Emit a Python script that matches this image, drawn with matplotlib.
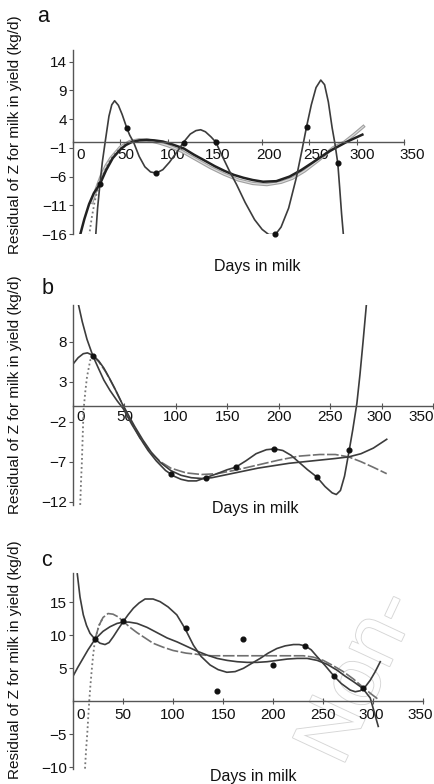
import matplotlib
matplotlib.use("Agg")
import matplotlib.pyplot as plt
import matplotlib.transforms as mtrans
import matplotlib.patheffects as pe

plt.rcParams['font.family'] = ['Liberation Sans', 'DejaVu Sans']

# ---------- panel a ----------
a_dot_day = [28.5, 57, 88, 117, 151, 214, 247, 280]
a_dot_val = [-7.3, 2.4, -5.4, -0.1, 0.0, -16.0, 2.7, -3.7]

a_wig_day = [24, 26, 28.5, 31, 34, 38, 41, 44, 48, 52, 57, 60, 64, 70, 76, 82, 88, 95, 102,
             110, 117, 124, 130, 135, 140, 146, 151, 158, 165, 173, 182, 192, 200, 207, 214,
             220, 228, 236, 242, 247, 252, 257, 262, 266, 270, 274, 277, 280, 282, 284, 286]
a_wig_val = [-16.3, -11.5, -7.3, -3.5, 0.0, 4.5, 6.5, 7.2, 6.4, 4.8, 2.4, 1.2, 0.0, -2.5, -4.3,
             -5.2, -5.4, -4.8, -3.5, -1.7, 0.0, 1.4, 2.0, 2.15, 1.8, 0.9, 0.0, -2.5, -4.9, -7.4,
             -10.5, -13.5, -15.2, -16.1, -16.1, -14.8, -11.5, -6.3, -1.5, 2.7, 6.5, 9.5, 10.8,
             10.0, 7.0, 2.5, -0.3, -3.7, -8.0, -12.5, -16.3]

a_blk_day = [7, 12, 17, 22, 28.5, 35, 42, 50, 56, 62, 70, 78, 86, 95, 105, 117, 128, 138, 150,
             160, 170, 180, 190, 201, 215, 229, 241, 253, 262, 271, 280, 289, 298, 306]
a_blk_val = [-16.5, -13.4, -10.8, -8.9, -7.3, -4.9, -2.8, -1.3, -0.5, 0.0, 0.3, 0.4, 0.3, 0.1,
             -0.4, -1.1, -2.2, -3.1, -4.2, -5.0, -5.7, -6.2, -6.6, -6.9, -6.8, -6.0, -4.9, -3.6,
             -2.6, -1.6, -0.8, 0.0, 0.7, 1.3]

a_gry_day = [20, 25, 30, 35, 40, 50, 60, 70, 80, 90, 100, 115, 130, 145, 160, 175, 190, 205,
             220, 232, 245, 260, 275, 287, 297, 307]
a_gry_val = [-10.5, -8.0, -5.8, -4.1, -2.8, -0.9, 0.1, 0.4, 0.3, -0.1, -0.6, -1.6, -3.0, -4.4,
             -5.6, -6.6, -7.2, -7.4, -7.0, -6.3, -5.0, -3.1, -1.0, 0.0, 1.3, 2.7]

a_dot_line_day = [17, 20, 23, 26, 28.5, 32, 38, 45, 52, 60]
a_dot_line_val = [-16.3, -13.0, -10.3, -8.4, -7.3, -5.6, -3.5, -1.9, -0.8, 0.0]

# ---------- panel b ----------
b_dot_day = [19.4, 95, 129, 158, 195, 237, 268.5]
b_dot_val = [6.2, -8.6, -9.0, -7.7, -5.4, -8.9, -5.6]

b_wig_day = [4.5, 9, 13.6, 19.4, 25, 30, 36, 43, 49, 57, 65, 73, 81, 90, 98, 105, 112, 120, 129,
             140, 150, 158, 168, 178, 188, 196, 204, 212, 220, 228, 237, 245, 252, 256, 260,
             264, 268.5, 272, 276, 279, 282, 285.5]
b_wig_val = [13.1, 10.5, 8.3, 6.2, 4.6, 3.2, 1.9, 0.6, -0.4, -2.3, -4.0, -5.6, -6.9, -8.1, -8.8,
             -9.2, -9.4, -9.4, -9.0, -8.5, -8.0, -7.7, -6.9, -6.0, -5.5, -5.4, -5.6, -6.2, -7.1,
             -8.0, -8.9, -10.1, -10.9, -11.1, -10.6, -8.8, -5.6, -3.0, 0.3, 3.9, 8.0, 13.0]

b_s1_day = [0, 5, 10, 14, 19.4, 25, 30, 36, 42, 48, 54, 60, 68, 76, 85, 95, 105, 115, 125, 135,
            150, 165, 180, 195, 210, 225, 240, 255, 268, 280, 292, 305]
b_s1_val = [5.2, 6.0, 6.5, 6.6, 6.3, 5.6, 4.7, 3.3, 1.8, 0.2, -1.2, -2.6, -4.3, -5.8, -7.1,
            -8.1, -8.7, -9.0, -9.1, -9.0, -8.6, -8.2, -7.8, -7.5, -7.2, -7.0, -6.8, -6.6, -6.4,
            -6.0, -5.3, -4.2]

b_s2_day = [19.4, 25, 32, 40, 48, 55, 65, 75, 85, 95, 110, 125, 140, 160, 180, 200, 220, 240,
            255, 268, 280, 292, 305]
b_s2_val = [6.2, 5.5, 4.2, 2.3, 0.2, -1.6, -4.0, -5.8, -7.0, -7.8, -8.4, -8.6, -8.5, -8.0, -7.4,
            -6.8, -6.3, -6.1, -6.1, -6.4, -7.0, -7.7, -8.5]

b_dot_line_day = [7.0, 7.8, 8.7, 9.5, 10.3, 12, 13.6, 16.8, 19.4]
b_dot_line_val = [-12.4, -9.5, -6.8, -3.5, -0.5, 1.8, 3.6, 5.7, 6.2]

# ---------- panel c ----------
c_dot_day = [22, 50.3, 113, 143.7, 170.3, 200.3, 232, 260.3, 289.3]
c_dot_val = [9.4, 12.1, 11.1, 1.5, 9.4, 5.5, 8.4, 3.9, 2.0]

c_wig_day = [4.3, 7, 10.3, 13.5, 17, 22, 27, 32, 36, 40.3, 45, 50.3, 55, 60.3, 66, 72, 80, 87,
             95, 103.7, 112, 120.3, 128, 137, 145, 153.7, 162, 170.3, 178, 187, 195, 203.7, 212,
             220.3, 226, 232, 238, 243.7, 252, 260.3, 268, 277, 282, 287, 292, 297, 302, 307]
c_wig_val = [19.3, 15.8, 13.1, 11.5, 10.3, 9.4, 8.8, 8.6, 8.9, 9.8, 10.9, 12.1, 13.1, 14.1, 14.9,
             15.5, 15.5, 15.1, 14.3, 13.1, 11.0, 8.5, 6.8, 5.5, 4.8, 4.4, 4.5, 5.0, 5.7, 6.5,
             7.3, 8.0, 8.4, 8.6, 8.6, 8.4, 7.8, 6.8, 5.4, 3.9, 2.7, 1.7, 1.45, 1.6, 2.2, 3.2,
             4.5, 6.0]

c_s1_day = [0, 5, 10, 15, 22, 30, 37, 44, 50.3, 56, 64, 74, 84, 94, 104, 114, 124, 134, 144,
            154, 164, 174, 184, 194, 204, 214, 224, 234, 244, 254, 264, 272, 280, 289.3, 297, 305]
c_s1_val = [3.8, 5.2, 6.5, 7.8, 9.4, 10.6, 11.3, 11.8, 12.0, 12.0, 11.8, 11.2, 10.4, 9.6, 9.0,
            8.3, 7.6, 7.0, 6.5, 6.2, 6.0, 5.9, 5.9, 6.0, 6.2, 6.4, 6.5, 6.5, 6.2, 5.6, 4.7, 3.8,
            3.0, 2.0, 0.5, -3.8]

c_s2_day = [22, 26, 30, 35, 40, 45, 50.3, 57, 64, 72, 80, 90, 100, 113, 125, 138, 150, 165, 180,
            197, 214, 230, 240, 250, 260, 270, 280, 290, 298, 305]
c_s2_val = [9.4, 11.5, 12.7, 13.3, 13.2, 12.8, 12.1, 11.2, 10.4, 9.6, 8.8, 8.2, 7.7, 7.3, 7.1,
            6.9, 6.9, 6.9, 6.9, 6.9, 6.9, 6.9, 6.7, 6.2, 5.4, 4.5, 3.4, 2.1, 1.1, 0.3]

c_dot_line_day = [12, 13, 14.3, 15.3, 16.3, 17.5, 18.7, 20, 22, 26, 30]
c_dot_line_val = [-10.2, -7.5, -4.8, -2.2, 0.2, 2.6, 4.7, 6.8, 9.4, 11.5, 12.7]

x_ticks = [0, 50, 100, 150, 200, 250, 300, 350]
a_yticks = [14, 9, 4, -1, -6, -11, -16]
b_yticks = [8, 3, -2, -7, -12]
c_yticks = [15, 10, 5, -5, -10]

ylab = "Residual of Z for milk in yield (kg/d)"
axis_col = '#555555'
line_col = '#3c3c3c'

W, H = 435, 784
fig = plt.figure(figsize=(W / 100, H / 100), dpi=100)


def make_ax(left, right, top, bottom, ylim, yticks, pad, shifts):
    ax = fig.add_axes([left / W, 1 - bottom / H, (right - left) / W, (bottom - top) / H])
    ax.set_facecolor('none')
    ax.set_xlim(0, 350)
    ax.set_ylim(*ylim)
    for s in ['top', 'right']:
        ax.spines[s].set_visible(False)
    ax.spines['bottom'].set_position(('data', 0))
    for s in ['bottom', 'left']:
        ax.spines[s].set_color(axis_col)
        ax.spines[s].set_linewidth(1.0)
    ax.set_xticks(x_ticks)
    ax.set_yticks(yticks)
    ax.tick_params(axis='x', direction='inout', length=4, pad=pad, labelsize=11,
                   color=axis_col, labelcolor='#111111')
    ax.tick_params(axis='y', direction='out', length=3, pad=1.5, labelsize=11,
                   color=axis_col, labelcolor='#111111')
    for lab, dx in zip(ax.get_xticklabels(), shifts):
        off = mtrans.ScaledTranslation(dx / 100, 0, fig.dpi_scale_trans)
        lab.set_transform(lab.get_transform() + off)
    return ax


def dots(ax, d, v):
    ax.plot(d, v, 'o', color='#111111', ms=3.4, zorder=5, clip_on=False)


# faint watermark (behind the plots)
fig.text(342 / W, 16 / H, "Non-", rotation=65, rotation_mode='anchor', fontsize=60,
         ha='left', va='baseline', color='white', zorder=-1,
         path_effects=[pe.withStroke(linewidth=1.3, foreground='#d6d6d6')])

# panel a
axa = make_ax(73, 404, 50.2, 234, (-16, 16), a_yticks, 2.5, [8, 6, 5, 3, 7, 7, 5, 8])
axa.plot(a_gry_day, a_gry_val, color='#a0a0a0', lw=2.4)
axa.plot(a_gry_day, a_gry_val, color='#dddddd', lw=0.8)
axa.plot(a_dot_line_day, a_dot_line_val, color='#777777', lw=1.3, ls=(0, (1, 1.5)))
axa.plot(a_blk_day, a_blk_val, color='#222222', lw=1.8)
axa.plot(a_wig_day, a_wig_val, color=line_col, lw=1.2)
dots(axa, a_dot_day, a_dot_val)

# panel b
axb = make_ax(73, 433, 304.9, 504.9, (-12.4, 12.6), b_yticks, 0.8, [8, 0, 0, 0, 0, 0, -2, -12])
axb.plot(b_dot_line_day, b_dot_line_val, color='#777777', lw=1.3, ls=(0, (1, 1.5)))
axb.plot(b_s2_day, b_s2_val, color='#707070', lw=1.2, ls=(0, (7, 1.5)))
axb.plot(b_s1_day, b_s1_val, color=line_col, lw=1.2)
axb.plot(b_wig_day, b_wig_val, color=line_col, lw=1.2)
dots(axb, b_dot_day, b_dot_val)

# panel c
axc = make_ax(73, 423.3, 572.6, 769.3, (-10.3, 19.5), c_yticks, 2.5, [8, 0, 0, 0, 0, 0, -2, -3])
axc.plot(c_dot_line_day, c_dot_line_val, color='#777777', lw=1.3, ls=(0, (1, 1.5)))
axc.plot(c_s2_day, c_s2_val, color='#707070', lw=1.2, ls=(0, (7, 1.5)))
axc.plot(c_s1_day, c_s1_val, color=line_col, lw=1.2)
axc.plot(c_wig_day, c_wig_val, color=line_col, lw=1.2)
dots(axc, c_dot_day, c_dot_val)

# labels
for letter, x, y in [('a', 43, 16), ('b', 48, 288), ('c', 47, 561)]:
    fig.text(x / W, 1 - y / H, letter, fontsize=15.5, ha='center', va='center', color='#111111')
for yc in [135, 395, 660]:
    fig.text(15 / W, 1 - yc / H, ylab, rotation=90, fontsize=11, ha='center', va='center',
             color='#111111')
for xc, yc in [(257, 267), (255, 508), (253, 776)]:
    fig.text(xc / W, 1 - yc / H, "Days in milk", fontsize=11.5, ha='center', va='center',
             color='#111111')

fig.savefig("out.png", dpi=100)
